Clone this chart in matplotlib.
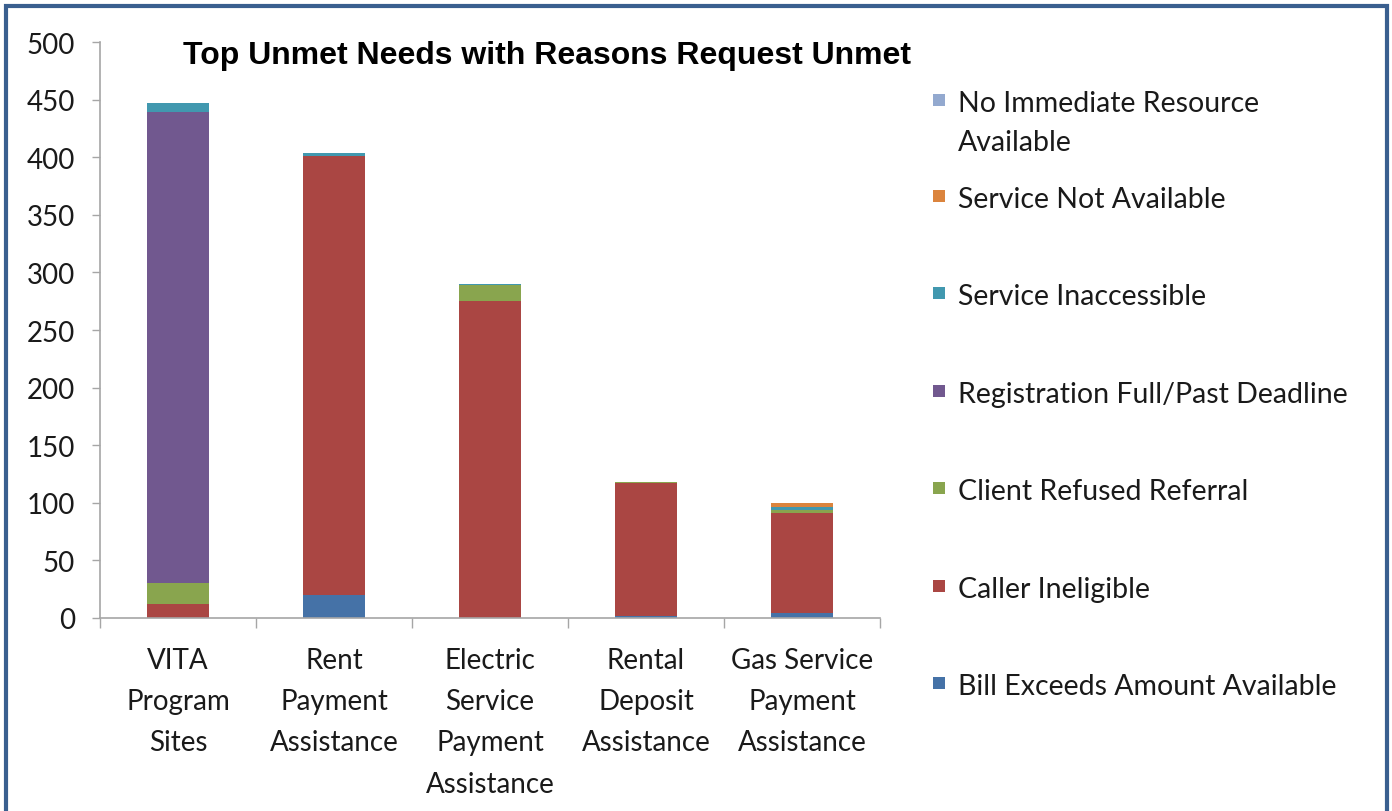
import numpy as np
import matplotlib.pyplot as plt
from matplotlib.patches import Rectangle

# data
categories = ["VITA\nProgram\nSites", "Rent\nPayment\nAssistance",
              "Electric\nService\nPayment\nAssistance", "Rental\nDeposit\nAssistance",
              "Gas Service\nPayment\nAssistance"]

bill_exceeds = [0, 20, 0, 2, 4]
caller_ineligible = [12, 381, 275, 115, 87]
client_refused = [18, 0, 14, 1, 3]
registration_full = [409, 0, 0, 0, 0]
service_inaccessible = [8, 3, 1, 0, 2]
service_not_available = [0, 0, 0, 0, 4]
no_immediate = [0, 0, 0, 0, 0]

series = [
    ("Bill Exceeds Amount Available", bill_exceeds, "#4572A7"),
    ("Caller Ineligible", caller_ineligible, "#AA4643"),
    ("Client Refused Referral", client_refused, "#89A54E"),
    ("Registration Full/Past Deadline", registration_full, "#71588F"),
    ("Service Inaccessible", service_inaccessible, "#4198AF"),
    ("Service Not Available", service_not_available, "#DB843D"),
    ("No Immediate Resource\nAvailable", no_immediate, "#93A9CF"),
]

plt.rcParams["font.family"] = ["Lato", "DejaVu Sans"]

fig = plt.figure(figsize=(13.92, 8.12), dpi=100)
ax = fig.add_axes([0.0718, 0.2377, 0.5604, 0.7093])

x = np.arange(len(categories))
bottom = np.zeros(len(categories))
for name, vals, col in series:
    ax.bar(x, vals, 0.4, bottom=bottom, color=col, edgecolor="none")
    bottom += np.array(vals)

ax.set_xlim(-0.5, len(categories) - 0.5)
ax.set_ylim(0, 500)
ax.set_yticks(np.arange(0, 501, 50))
ax.tick_params(axis="y", labelsize=20, length=6, width=1, color="#a6a6a6",
               pad=12, labelcolor="#1a1a1a")

# category boundary ticks, labels centred on minor ticks
ax.set_xticks(np.arange(-0.5, len(categories), 1))
ax.set_xticklabels([])
ax.set_xticks(x, minor=True)
ax.set_xticklabels(categories, minor=True, linespacing=1.72)
ax.tick_params(axis="x", which="major", length=7, width=1, color="#a6a6a6")
ax.tick_params(axis="x", which="minor", length=0, labelsize=20, pad=21,
               labelcolor="#1a1a1a")

for s in ["top", "right"]:
    ax.spines[s].set_visible(False)
for s in ["left", "bottom"]:
    ax.spines[s].set_color("#a6a6a6")
    ax.spines[s].set_linewidth(1.2)

fig.text(0.393, 1 - 56 / 812, "Top Unmet Needs with Reasons Request Unmet",
         ha="center", va="center", fontsize=23, fontweight="bold",
         family="Liberation Sans")

# legend drawn by hand, top entry is the last series (Excel order)
for i, (name, vals, col) in enumerate(series[::-1]):
    if i == 0:
        y = 1 - 101 / 812
    else:
        y = 1 - (197 + 97.4 * (i - 1)) / 812
    fig.patches.append(Rectangle((933 / 1392, y - 6 / 812), 12 / 1392, 12 / 812,
                                 transform=fig.transFigure, facecolor=col,
                                 edgecolor="none"))
    # baseline of the last line of the label
    extra = name.count("\n") * 39
    fig.text(958 / 1392, y - (11 + extra) / 812, name, ha="left", va="baseline",
             fontsize=20.5, color="#1a1a1a", linespacing=1.6)

# dark blue border around the chart area
fig.patches.append(Rectangle((0.004, -0.02), 0.9925, 1.0115, transform=fig.transFigure,
                             fill=False, edgecolor="#3A5F8F", linewidth=3))

fig.savefig("out.png", dpi=100)
